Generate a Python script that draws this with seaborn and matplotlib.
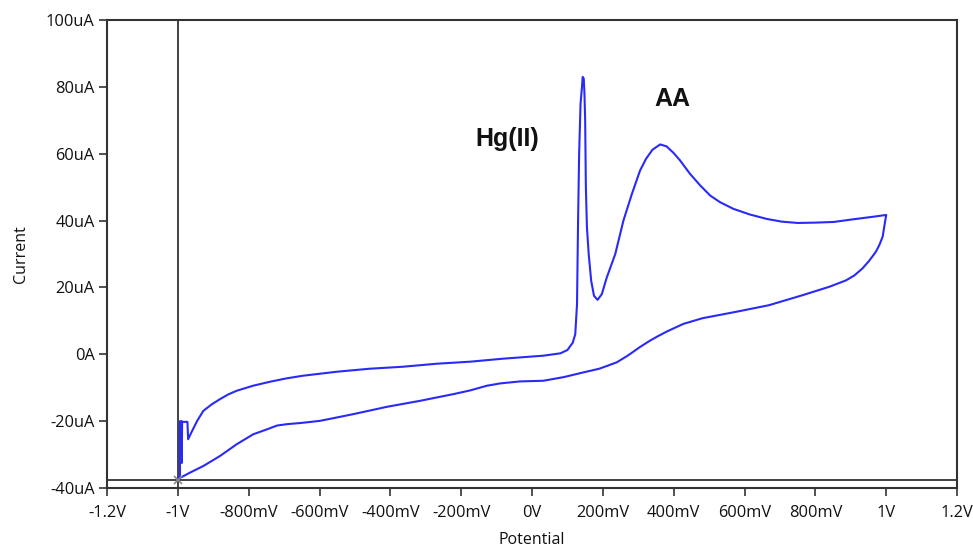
import matplotlib
matplotlib.use("Agg")
import matplotlib.pyplot as plt
import seaborn as sns
import pandas as pd
from matplotlib.ticker import FixedLocator, FixedFormatter

# Cyclic voltammogram: potential (V) and current (uA), traced as one closed path
potential = [
    -1.000, -0.994, -0.994, -0.989, -0.989, -0.988, -0.973, -0.971, -0.962, -0.945,
    -0.928, -0.905, -0.881, -0.858, -0.834, -0.788, -0.740, -0.694, -0.647, -0.551,
    -0.458, -0.364, -0.268, -0.175, -0.082, 0.032, 0.080, 0.100, 0.115, 0.122,
    0.127, 0.130, 0.133, 0.137, 0.141, 0.143, 0.146, 0.148, 0.150, 0.152,
    0.155, 0.160, 0.167, 0.175, 0.185, 0.197, 0.211, 0.235, 0.258, 0.282,
    0.305, 0.322, 0.340, 0.362, 0.380, 0.400, 0.418, 0.446, 0.475, 0.503,
    0.531, 0.569, 0.616, 0.663, 0.705, 0.750, 0.800, 0.852, 0.900, 0.966,
    1.000,
    0.998, 0.990, 0.981, 0.971, 0.952, 0.933, 0.910, 0.886, 0.839, 0.764,
    0.669, 0.575, 0.481, 0.427, 0.380, 0.355, 0.333, 0.305, 0.270, 0.239,
    0.190, 0.145, 0.090, 0.032, -0.034, -0.090, -0.128, -0.175, -0.222, -0.316,
    -0.410, -0.505, -0.599, -0.650, -0.693, -0.720, -0.750, -0.787, -0.834, -0.881,
    -0.928, -0.966, -1.000,
]
current = [
    -37.5, -36.0, -20.0, -20.0, -32.5, -20.2, -20.2, -25.4, -23.4, -19.8,
    -16.9, -15.0, -13.4, -12.0, -10.9, -9.4, -8.2, -7.2, -6.4, -5.2,
    -4.3, -3.7, -2.8, -2.2, -1.3, -0.4, 0.3, 1.3, 3.5, 6.0,
    15.0, 40.0, 60.0, 75.0, 80.0, 83.0, 82.5, 78.0, 70.0, 50.0,
    38.0, 30.0, 22.0, 17.5, 16.3, 18.0, 23.0, 30.0, 40.0, 48.0,
    55.0, 58.5, 61.2, 62.8, 62.2, 60.2, 58.0, 54.0, 50.5, 47.5,
    45.5, 43.5, 41.8, 40.5, 39.7, 39.3, 39.4, 39.6, 40.3, 41.2,
    41.7,
    40.5, 35.2, 32.8, 30.7, 28.0, 25.7, 23.6, 22.1, 20.2, 17.7,
    14.7, 12.7, 10.8, 9.1, 6.8, 5.4, 4.1, 2.2, -0.4, -2.4,
    -4.3, -5.4, -6.8, -7.9, -8.1, -8.7, -9.4, -10.8, -11.9, -13.9,
    -15.7, -17.9, -19.9, -20.5, -20.9, -21.3, -22.5, -23.9, -26.9, -30.4,
    -33.4, -35.4, -37.3,
]

x_ticks = [-1.2, -1.0, -0.8, -0.6, -0.4, -0.2, 0.0, 0.2, 0.4, 0.6, 0.8, 1.0, 1.2]
x_tick_labels = ["-1.2V", "-1V", "-800mV", "-600mV", "-400mV", "-200mV", "0V",
                 "200mV", "400mV", "600mV", "800mV", "1V", "1.2V"]
y_ticks = [100, 80, 60, 40, 20, 0, -20, -40]
y_tick_labels = ["100uA", "80uA", "60uA", "40uA", "20uA", "0A", "-20uA", "-40uA"]

cursor_x = -1.0
cursor_y = -37.5

peak_labels = ["Hg(II)", "AA"]
peak_label_pos = [(-0.07, 64.5), (0.395, 76.5)]

sns.set_theme(style="ticks")
plt.rcParams["font.family"] = ["Open Sans", "DejaVu Sans"]

fig = plt.figure(figsize=(9.73, 5.49), dpi=100)
ax = fig.add_axes([0.110, 0.111, 0.8736, 0.8525])

df = pd.DataFrame({"Potential": potential, "Current": current})
sns.lineplot(data=df, x="Potential", y="Current", sort=False, estimator=None,
             color="#2a2af8", linewidth=1.5, ax=ax)

ax.axvline(cursor_x, color="#333333", lw=1.3, zorder=1)
ax.axhline(cursor_y, color="#333333", lw=1.3, zorder=1)
ax.plot([cursor_x], [cursor_y], marker="x", color="#888888", ms=6, mew=1.2, zorder=4)

ax.set_xlim(-1.2, 1.2)
ax.set_ylim(-40, 100)
ax.xaxis.set_major_locator(FixedLocator(x_ticks))
ax.xaxis.set_major_formatter(FixedFormatter(x_tick_labels))
ax.yaxis.set_major_locator(FixedLocator(y_ticks))
ax.yaxis.set_major_formatter(FixedFormatter(y_tick_labels))
ax.tick_params(axis="both", direction="out", length=6, width=1.2, color="#333333",
               labelsize=11.8, labelcolor="#111111", pad=3)
ax.tick_params(axis="x", pad=6)

for s in ax.spines.values():
    s.set_color("#333333")
    s.set_linewidth(1.5)
    s.set_visible(True)

ax.set_xlabel("Potential", fontsize=11.5, color="#111111", labelpad=8)
ax.set_ylabel("Current", fontsize=11.5, color="#111111", labelpad=12)

for lab, (px, py) in zip(peak_labels, peak_label_pos):
    ax.text(px, py, lab, fontsize=18, fontweight="bold", ha="center", va="center",
            family=["Liberation Sans", "DejaVu Sans"], color="#111111")

fig.savefig("out.png", dpi=100)
